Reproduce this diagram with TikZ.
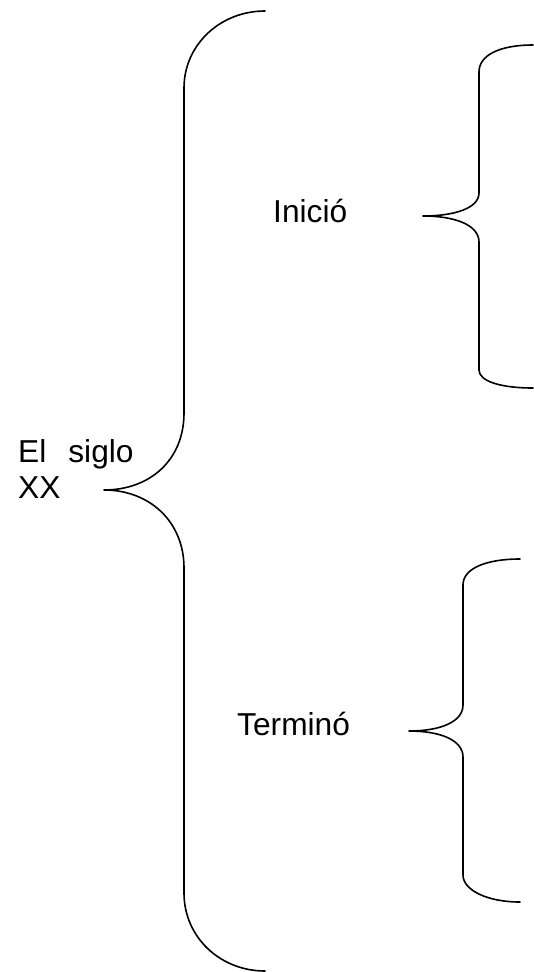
\documentclass[tikz,border=0pt]{standalone}
\usepackage{fontspec}
\setmainfont{Liberation Sans}
\begin{document}
\begin{tikzpicture}[x=1pt,y=-1pt,
  lbl/.style={anchor=base west,inner sep=0pt,font=\fontsize{31.7}{36}\selectfont},
  bracepath/.style={line width=1.6pt,line join=round,line cap=round}]
\useasboundingbox (0,0) rectangle (534,972);
% labels
\node[lbl] (siglo) at (18,462) {El\hspace{22pt}siglo};
\node[lbl] (xx) at (18,498) {XX};
\node[lbl] (inicio) at (273,222) {Inició};
\node[lbl] (termino) at (237,735) {Terminó};
% big brace
\coordinate (bigtip) at (104,490);
\draw[bracepath] (265,11) .. controls (220,11) and (184,45) .. (184,88)
  -- (184,413) .. controls (184,460) and (150,490) .. (bigtip)
  .. controls (150,490) and (184,522) .. (184,568)
  -- (184,893) .. controls (184,937) and (220,971) .. (265,971);
% upper small brace
\coordinate (uptip) at (423,216);
\draw[bracepath] (533,45) .. controls (500,45) and (479,55) .. (479,72)
  -- (479,193) .. controls (479,208) and (455,216) .. (uptip)
  .. controls (455,216) and (479,225) .. (479,242)
  -- (479,370) .. controls (479,381) and (500,388) .. (533,388);
% lower small brace
\coordinate (lowtip) at (409,731);
\draw[bracepath] (520,559) .. controls (487,559) and (463,568) .. (463,585)
  -- (463,705) .. controls (463,722) and (440,731) .. (lowtip)
  .. controls (440,731) and (463,740) .. (463,757)
  -- (463,875) .. controls (463,890) and (487,902) .. (520,902);
\end{tikzpicture}
\end{document}
